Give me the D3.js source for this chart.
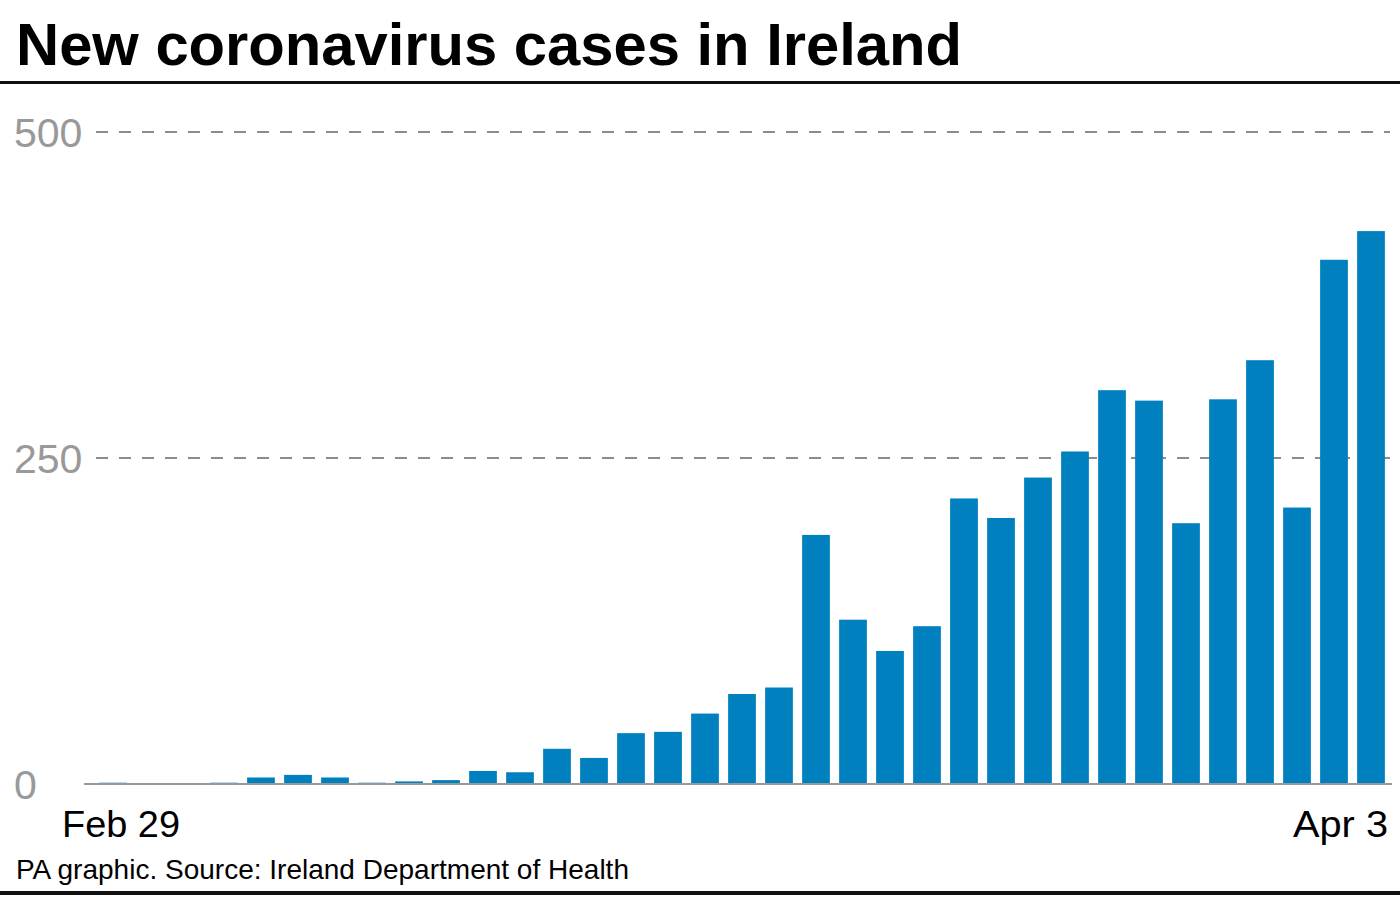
<!DOCTYPE html>
<html><head><meta charset="utf-8">
<script src="https://cdn.jsdelivr.net/npm/d3@7"></script>
<style>html,body{margin:0;padding:0;background:#fff;}svg{display:block;}</style>
</head><body>
<script>
const dates = ["Feb 29","Mar 1","Mar 2","Mar 3","Mar 4","Mar 5","Mar 6","Mar 7","Mar 8","Mar 9","Mar 10","Mar 11","Mar 12","Mar 13","Mar 14","Mar 15","Mar 16","Mar 17","Mar 18","Mar 19","Mar 20","Mar 21","Mar 22","Mar 23","Mar 24","Mar 25","Mar 26","Mar 27","Mar 28","Mar 29","Mar 30","Mar 31","Apr 1","Apr 2","Apr 3"];
const cases = [1,0,0,1,5,7,5,1,2,3,10,9,27,20,39,40,54,69,74,191,126,102,121,219,204,235,255,302,294,200,295,325,212,402,424];
const yTicks = [0,250,500];
const xTickLabels = ["Feb 29","Apr 3"];
const title = "New coronavirus cases in Ireland";
const source = "PA graphic. Source: Ireland Department of Health";

const W = 1400, H = 900;
const font = "'Liberation Sans', Arial, sans-serif";
const svg = d3.select("body").append("svg").attr("width", W).attr("height", H);

const x = d3.scaleBand().domain(dates).range([94.5, 1389.5]).paddingInner(0.25).paddingOuter(0.125);
const y = d3.scaleLinear().domain([0, 500]).range([784, 132]);

// title
svg.append("text").attr("x", 16).attr("y", 65).text(title)
  .attr("font-family", font).attr("font-weight", "bold").attr("font-size", 59)
  .attr("fill", "#000").attr("textLength", 946).attr("lengthAdjust", "spacingAndGlyphs");
svg.append("rect").attr("x", 0).attr("y", 81).attr("width", W).attr("height", 3).attr("fill", "#111");

// gridlines
const grid = yTicks.filter(d => d > 0);
svg.append("g").selectAll("line").data(grid).join("line")
  .attr("x1", 96).attr("x2", 1390).attr("y1", d => y(d)).attr("y2", d => y(d))
  .attr("stroke", "#8c8c8c").attr("stroke-width", 2).attr("stroke-dasharray", "12,11");

// y labels
svg.append("g").selectAll("text").data(yTicks).join("text")
  .attr("x", 14).attr("y", d => y(d) + 14.5).text(d => d)
  .attr("font-family", font).attr("font-size", 41).attr("fill", "#999");

// bars
svg.append("g").selectAll("rect").data(cases).join("rect")
  .attr("x", (d, i) => x(dates[i])).attr("width", x.bandwidth())
  .attr("y", d => y(d)).attr("height", d => y(0) - y(d))
  .attr("fill", "#0080bf");

// baseline
svg.append("line").attr("x1", 84).attr("x2", 1392).attr("y1", y(0)).attr("y2", y(0))
  .attr("stroke", "#999").attr("stroke-width", 2);

// x labels
svg.append("text").attr("x", 62).attr("y", 837).text(xTickLabels[0])
  .attr("font-family", font).attr("font-size", 37).attr("fill", "#000")
  .attr("textLength", 118).attr("lengthAdjust", "spacingAndGlyphs");
svg.append("text").attr("x", 1293).attr("y", 837).text(xTickLabels[1])
  .attr("font-family", font).attr("font-size", 37).attr("fill", "#000")
  .attr("textLength", 95).attr("lengthAdjust", "spacingAndGlyphs");

// source
svg.append("text").attr("x", 16).attr("y", 879).text(source)
  .attr("font-family", font).attr("font-size", 28).attr("fill", "#000")
  .attr("textLength", 613).attr("lengthAdjust", "spacingAndGlyphs");
svg.append("rect").attr("x", 0).attr("y", 891).attr("width", W).attr("height", 4).attr("fill", "#111");
</script>
</body></html>
